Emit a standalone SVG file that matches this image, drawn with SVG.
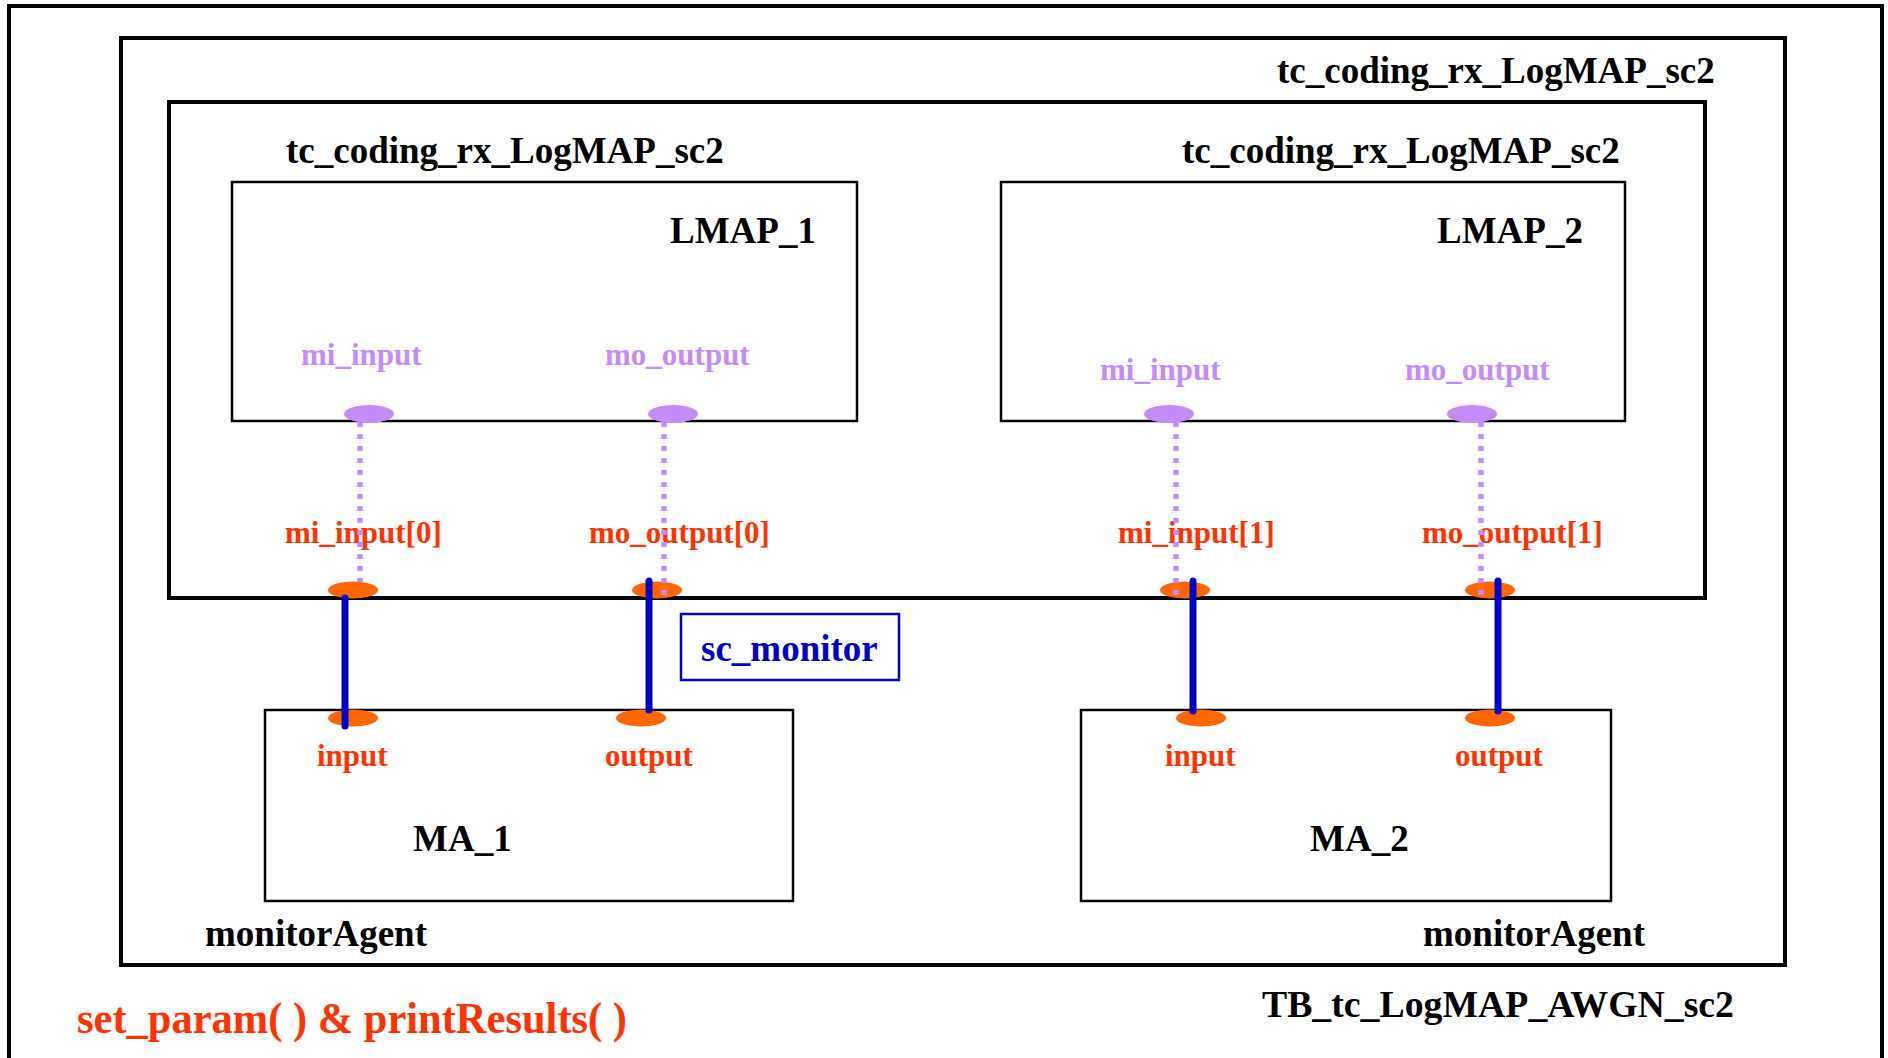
<svg xmlns="http://www.w3.org/2000/svg" width="1888" height="1058" viewBox="0 0 1888 1058">
  <style>
    .frame { fill: none; stroke: #000; stroke-width: 4; }
    .box { fill: none; stroke: #000; stroke-width: 2.5; }
    .lbl { font-family: "Liberation Serif", "Times New Roman", serif; font-weight: bold; font-size: 37px; fill: #000; }
    .mport { font-family: "Liberation Serif", "Times New Roman", serif; font-weight: bold; font-size: 31px; fill: #C58CF9; }
    .rport { font-family: "Liberation Serif", "Times New Roman", serif; font-weight: bold; font-size: 31px; fill: #FF3300; }
    .big { font-size: 44px; }
    .blue { fill: #0000CC; }
    .pdot { fill: #C58CF9; }
    .odot { fill: #FF6600; }
    .dotted { stroke: #C58CF9; stroke-width: 5.5; stroke-dasharray: 5 7; fill: none; }
    .wire { stroke: #0000CC; stroke-width: 7; stroke-linecap: round; fill: none; }
  </style>
  <rect width="1888" height="1058" fill="#fff"/>

  <!-- testbench frame -->
  <g id="tb">
    <rect class="frame" x="9" y="6" width="1873" height="1080" stroke-width="3.5"/>
    <text class="lbl" x="1262" y="1017" textLength="472" lengthAdjust="spacingAndGlyphs">TB_tc_LogMAP_AWGN_sc2</text>
    <text class="rport big" x="77" y="1033" textLength="550" lengthAdjust="spacingAndGlyphs">set_param( ) &amp; printResults( )</text>
  </g>

  <!-- top-level decoder frame -->
  <g id="top_decoder">
    <rect class="frame" x="121" y="38" width="1664" height="927"/>
    <text class="lbl" x="1277" y="83">tc_coding_rx_LogMAP_sc2</text>
    <text class="lbl" x="205" y="946">monitorAgent</text>
    <text class="lbl" x="1423" y="946">monitorAgent</text>
  </g>

  <!-- inner decoder frame -->
  <g id="inner_decoder">
    <rect class="frame" x="169" y="102" width="1536" height="496"/>
    <text class="lbl" x="286" y="163">tc_coding_rx_LogMAP_sc2</text>
    <text class="lbl" x="1182" y="163">tc_coding_rx_LogMAP_sc2</text>
    <text class="rport" x="285" y="543">mi_input[0]</text>
    <text class="rport" x="589" y="543">mo_output[0]</text>
    <text class="rport" x="1118" y="543">mi_input[1]</text>
    <text class="rport" x="1422" y="543">mo_output[1]</text>
  </g>

  <g id="LMAP_1">
    <rect class="box" x="232" y="182" width="625" height="239"/>
    <text class="lbl" x="670" y="243">LMAP_1</text>
    <text class="mport" x="301" y="365">mi_input</text>
    <text class="mport" x="605" y="365">mo_output</text>
  </g>

  <g id="LMAP_2">
    <rect class="box" x="1001" y="182" width="624" height="239"/>
    <text class="lbl" x="1437" y="243">LMAP_2</text>
    <text class="mport" x="1100" y="380">mi_input</text>
    <text class="mport" x="1405" y="380">mo_output</text>
  </g>

  <g id="MA_1">
    <rect class="box" x="265" y="710" width="528" height="191"/>
    <text class="rport" x="317" y="766">input</text>
    <text class="rport" x="605" y="766">output</text>
    <text class="lbl" x="413" y="851">MA_1</text>
  </g>

  <g id="MA_2">
    <rect class="box" x="1081" y="710" width="530" height="191"/>
    <text class="rport" x="1165" y="766">input</text>
    <text class="rport" x="1455" y="766">output</text>
    <text class="lbl" x="1310" y="851">MA_2</text>
  </g>

  <g id="sc_monitor">
    <rect x="681" y="614" width="218" height="66" fill="none" stroke="#0000CC" stroke-width="2.5"/>
    <text class="lbl blue" x="701" y="661">sc_monitor</text>
  </g>

  <!-- ports and bindings -->
  <g id="connectors">
    <ellipse class="pdot" cx="369" cy="414" rx="25" ry="9"/>
    <ellipse class="pdot" cx="673" cy="414" rx="25" ry="9"/>
    <ellipse class="pdot" cx="1169" cy="414" rx="25" ry="9"/>
    <ellipse class="pdot" cx="1472" cy="414" rx="25" ry="9"/>

    <ellipse class="odot" cx="353" cy="590" rx="25" ry="8.5"/>
    <ellipse class="odot" cx="657" cy="590" rx="25" ry="8.5"/>
    <ellipse class="odot" cx="1185" cy="590" rx="25" ry="8.5"/>
    <ellipse class="odot" cx="1490" cy="590" rx="25" ry="8.5"/>

    <ellipse class="odot" cx="353" cy="718" rx="25" ry="8.5"/>
    <ellipse class="odot" cx="641" cy="718" rx="25" ry="8.5"/>
    <ellipse class="odot" cx="1201" cy="718" rx="25" ry="8.5"/>
    <ellipse class="odot" cx="1490" cy="718" rx="25" ry="8.5"/>

    <line class="dotted" x1="360" y1="422" x2="360" y2="582"/>
    <line class="dotted" x1="664" y1="422" x2="664" y2="596"/>
    <line class="dotted" x1="1176" y1="422" x2="1176" y2="596"/>
    <line class="dotted" x1="1481" y1="422" x2="1481" y2="596"/>

    <line class="wire" x1="345" y1="598" x2="345" y2="726"/>
    <line class="wire" x1="649" y1="581" x2="649" y2="710"/>
    <line class="wire" x1="1193" y1="581" x2="1193" y2="711"/>
    <line class="wire" x1="1498" y1="581" x2="1498" y2="711"/>
  </g>
</svg>
